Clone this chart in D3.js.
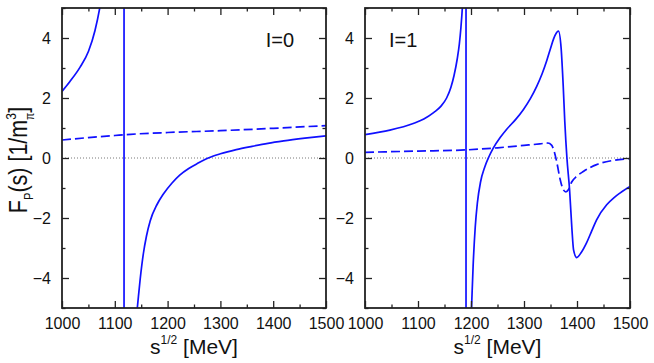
<!DOCTYPE html>
<html>
<head>
<meta charset="utf-8">
<script src="https://cdn.jsdelivr.net/npm/d3@7"></script>
<style>
  body { margin: 0; background: #fff; }
  svg { display: block; font-family: "Liberation Sans", Arial, sans-serif; }
</style>
</head>
<body>
<svg id="chart" width="654" height="363"></svg>
<script>
//
// Data: [sqrt(s) in MeV, F_P in 1/m_pi^3]
// solid curves are given as branches; consecutive branches are joined
// by a straight line (the pole crossing)
//
const xTicks = [1000, 1100, 1200, 1300, 1400, 1500];
const xMinor = [1050, 1150, 1250, 1350, 1450];
const yTicks = [-4, -2, 0, 2, 4];
const yMinor = [-5, -3, -1, 1, 3, 5];

const i0SolidA = [[1000, 2.22], [1015, 2.55], [1034, 3.02], [1050, 3.55], [1062.5, 4.25],
  [1072, 5.05], [1085, 6.6], [1117.5, 9]];
const i0SolidB = [[1117.5, -9], [1142.6, -5], [1148, -4.05], [1154, -3.2], [1160, -2.6],
  [1167, -2.1], [1180, -1.55], [1192, -1.2], [1208, -0.84], [1223, -0.57], [1240, -0.35],
  [1258, -0.17], [1277, 0], [1300, 0.14], [1330, 0.28], [1360, 0.39], [1390, 0.49],
  [1420, 0.57], [1460, 0.66], [1500, 0.74]];
const i0Dashed = [[1000, 0.6], [1050, 0.68], [1100, 0.75], [1130, 0.79], [1200, 0.85],
  [1300, 0.91], [1400, 0.99], [1500, 1.08]];

const i1SolidA = [[1000, 0.78], [1047, 0.93], [1091, 1.15], [1111, 1.3], [1130, 1.52],
  [1143, 1.72], [1154, 2.0], [1162, 2.35], [1168, 2.75], [1174, 3.3], [1178, 3.8],
  [1181, 4.35], [1184, 5.1], [1187, 6.2], [1190.6, 9]];
const i1SolidB = [[1190.6, -9], [1201, -5], [1204, -3.6], [1208, -2.3], [1212, -1.5],
  [1218, -0.8], [1226, -0.3], [1234, 0.05], [1242, 0.33], [1255, 0.68], [1267, 0.95],
  [1284, 1.28], [1299, 1.62], [1312, 1.98], [1324, 2.39], [1334, 2.8], [1343, 3.25],
  [1350, 3.65], [1356, 3.98], [1361, 4.17], [1365, 4.23], [1370, 3.67], [1374, 2.4],
  [1377, 1.2], [1381, 0], [1386, -1.06], [1390.5, -2.39], [1393.5, -3.06], [1399.5, -3.32],
  [1408, -3.15], [1418, -2.83], [1428, -2.42], [1437, -2.06], [1456, -1.56], [1470, -1.32],
  [1481, -1.17], [1500, -0.95]];
const i1Dashed = [[1000, 0.19], [1100, 0.23], [1190, 0.27], [1250, 0.34], [1300, 0.42],
  [1330, 0.47], [1345, 0.5], [1352, 0.43], [1357, 0.22], [1362, -0.15], [1368, -0.7],
  [1374, -1.05], [1379, -1.13], [1384, -1.05], [1390, -0.8], [1400, -0.6], [1412, -0.45],
  [1437, -0.22], [1468, -0.08], [1500, -0.02]];

const panelLabels = ['I=0', 'I=1'];

//
// Layout
//
const colorLine = '#1010ff';
const colorFrame = '#222';
const plotTop = 8, plotBottom = 308;
const panels = [
  {left: 62, right: 326, label: panelLabels[0], solid: [i0SolidA, i0SolidB], dashed: i0Dashed,
    labelX: 294, labelAnchor: 'end'},
  {left: 365, right: 630, label: panelLabels[1], solid: [i1SolidA, i1SolidB], dashed: i1Dashed,
    labelX: 389, labelAnchor: 'start'}
];

const svg = d3.select('#chart');
svg.append('rect').attr('width', 654).attr('height', 363).attr('fill', '#fff');

const y = d3.scaleLinear().domain([-5, 5]).range([plotBottom, plotTop]);

panels.forEach((p, i) => {
  const x = d3.scaleLinear().domain([1000, 1500]).range([p.left, p.right]);
  const g = svg.append('g');
  const clipId = 'clip' + i;
  svg.append('clipPath').attr('id', clipId)
    .append('rect').attr('x', p.left).attr('y', plotTop)
    .attr('width', p.right - p.left).attr('height', plotBottom - plotTop);

  // zero line
  g.append('line')
    .attr('x1', p.left).attr('x2', p.right)
    .attr('y1', y(0)).attr('y2', y(0))
    .attr('stroke', '#555').attr('stroke-width', 0.8)
    .attr('stroke-dasharray', '1,2');

  const line = d3.line()
    .x(d => x(d[0]))
    .y(d => y(d[1]))
    .curve(d3.curveMonotoneX);
  const curves = g.append('g').attr('clip-path', `url(#${clipId})`)
    .attr('fill', 'none').attr('stroke', colorLine).attr('stroke-width', 1.7);

  curves.append('path').attr('d', line(p.dashed)).attr('stroke-dasharray', '9,4');
  p.solid.forEach((br, k) => {
    curves.append('path').attr('d', line(br));
    if (k > 0) {
      const a = p.solid[k - 1][p.solid[k - 1].length - 1];
      curves.append('path').attr('d', d3.line().x(d => x(d[0])).y(d => y(d[1]))([a, br[0]]));
    }
  });

  // axes: ticks inward on all four sides
  g.append('g').attr('transform', `translate(0,${plotBottom})`)
    .call(d3.axisBottom(x).tickValues(xTicks).tickSize(-7).tickPadding(10).tickFormat(d3.format('d')));
  g.append('g').attr('transform', `translate(0,${plotTop})`)
    .call(d3.axisTop(x).tickValues(xTicks).tickSize(-7).tickFormat(''));
  g.append('g').attr('transform', `translate(${p.left},0)`)
    .call(d3.axisLeft(y).tickValues(yTicks).tickSize(-7).tickPadding(11).tickFormat(d3.format('d')));
  g.append('g').attr('transform', `translate(${p.right},0)`)
    .call(d3.axisRight(y).tickValues(yTicks).tickSize(-7).tickFormat(''));
  g.append('g').attr('transform', `translate(0,${plotBottom})`)
    .call(d3.axisBottom(x).tickValues(xMinor).tickSize(-3.5).tickFormat(''));
  g.append('g').attr('transform', `translate(0,${plotTop})`)
    .call(d3.axisTop(x).tickValues(xMinor).tickSize(-3.5).tickFormat(''));
  g.append('g').attr('transform', `translate(${p.left},0)`)
    .call(d3.axisLeft(y).tickValues(yMinor).tickSize(-3.5).tickFormat(''));
  g.append('g').attr('transform', `translate(${p.right},0)`)
    .call(d3.axisRight(y).tickValues(yMinor).tickSize(-3.5).tickFormat(''));

  g.selectAll('.domain').remove();
  g.selectAll('.tick line').attr('stroke', colorFrame).attr('stroke-width', 1.3);
  g.selectAll('.tick text').attr('fill', '#111').attr('font-size', 16)
    .attr('font-family', '"Liberation Sans", Arial, sans-serif');

  g.append('rect')
    .attr('x', p.left).attr('y', plotTop)
    .attr('width', p.right - p.left).attr('height', plotBottom - plotTop)
    .attr('fill', 'none').attr('stroke', colorFrame).attr('stroke-width', 1.8);

  g.append('text')
    .attr('x', p.labelX).attr('y', 47)
    .attr('text-anchor', p.labelAnchor)
    .attr('font-size', 20).attr('fill', '#111')
    .text(p.label);

  // x axis title
  const xt = g.append('text')
    .attr('x', (p.left + p.right) / 2).attr('y', 354)
    .attr('text-anchor', 'middle').attr('font-size', 21).attr('fill', '#111');
  xt.append('tspan').text('s');
  xt.append('tspan').attr('font-size', 12).attr('dy', -10).text('1/2');
  xt.append('tspan').attr('dy', 10).text(' [MeV]');
});

// y axis title (glyphs a bit condensed, as in the original)
const yt = svg.append('text')
  .attr('transform', 'translate(27,160) rotate(-90) scale(0.86,1)')
  .attr('text-anchor', 'middle').attr('font-size', 25).attr('fill', '#111');
yt.append('tspan').text('F');
yt.append('tspan').attr('font-size', 13).attr('dy', 6).text('P');
yt.append('tspan').attr('dy', -6).text('(s) [1/m');
yt.append('tspan').attr('font-size', 14).attr('dy', -11).text('3');
yt.append('tspan').attr('font-size', 12).attr('dx', -8).attr('dy', 18).text('π');
yt.append('tspan').attr('dy', -7).text(']');
</script>
</body>
</html>
